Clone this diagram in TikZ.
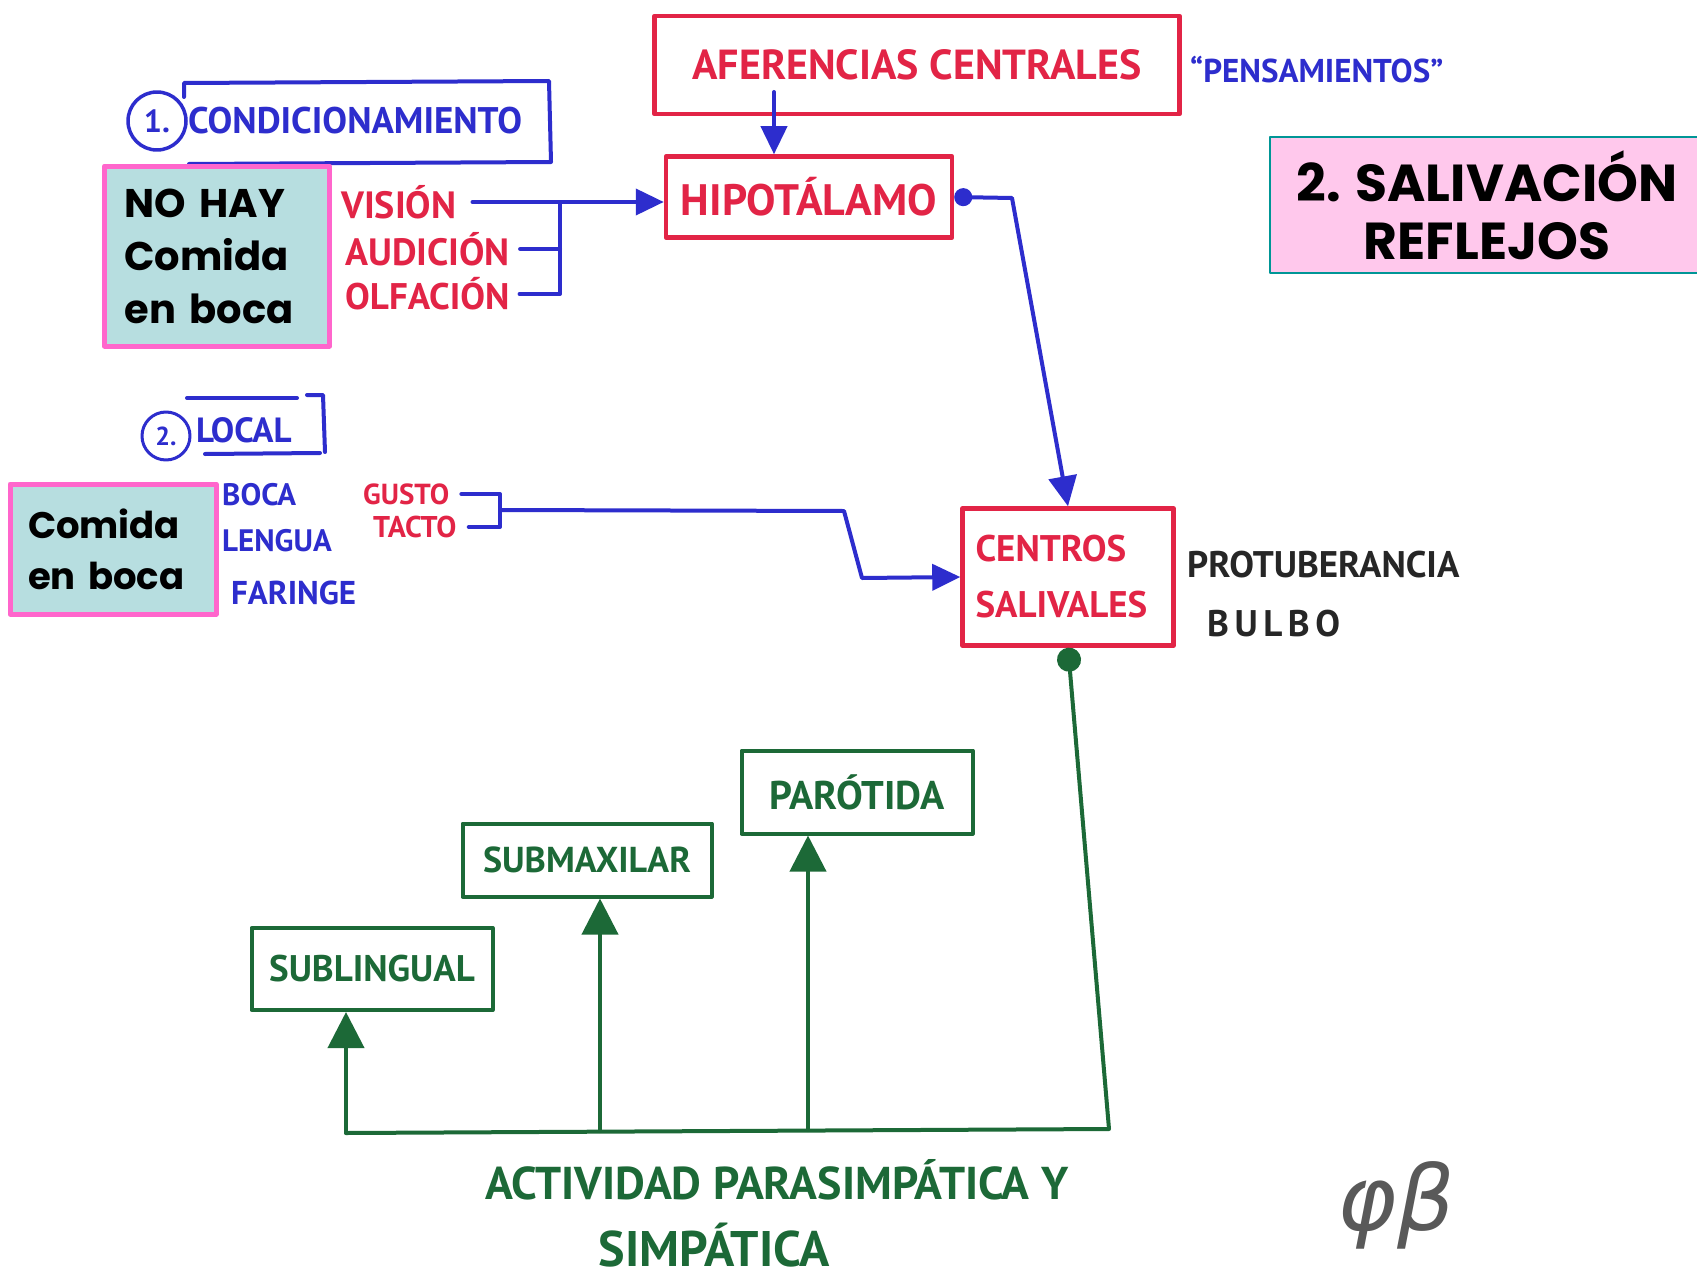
\documentclass[tikz,border=0pt]{standalone}
\usepackage{fontspec}
\setmainfont{PT Sans}
\newfontfamily\cartel{Poppins}
\newfontfamily\firmafont{DejaVu Sans}
\usetikzlibrary{arrows.meta, positioning, calc}
\definecolor{rotulador}{RGB}{226, 36, 70}
\definecolor{tinta}{RGB}{45, 45, 205}
\definecolor{verde}{RGB}{28, 105, 55}
\definecolor{aguamar}{RGB}{183, 222, 224}
\definecolor{fucsia}{RGB}{255, 102, 204}
\definecolor{rosado}{RGB}{255, 200, 236}
\definecolor{turquesa}{RGB}{0, 150, 150}
\newcommand{\tam}[2]{\fontsize{#1}{#2}\selectfont}

\begin{document}
\begin{tikzpicture}[x=1pt, y=-1pt, line cap=round, line join=round,
        caja/.style={rectangle, draw=rotulador, line width=4.5pt, text=rotulador, inner sep=0pt, font=\bfseries\tam{42}{50}},
        glandula/.style={rectangle, draw=verde, line width=4pt, text=verde, inner sep=0pt, font=\bfseries\tam{37}{44}},
        cartelito/.style={rectangle, fill=aguamar, draw=fucsia, line width=5pt, align=left, inner ysep=0pt, font=\cartel\bfseries\tam{40}{53}},
        rojo/.style={text=rotulador, anchor=west, inner sep=0pt, font=\bfseries\tam{38}{44}},
        azul/.style={text=tinta, anchor=west, inner sep=0pt, font=\bfseries\tam{31}{36}},
        negro/.style={text=black!85, anchor=west, inner sep=0pt, font=\bfseries\tam{37}{44}},
        trazo/.style={draw=tinta, line width=4pt},
        flecha/.style={trazo, -{Triangle[length=28pt, width=26pt]}},
        punta/.style={draw=verde, line width=4pt, -{Triangle[length=36pt, width=36pt]}}
    ]
    \clip (0,0) rectangle (1697,1279);
    \fill[white] (0,0) rectangle (1697,1279);

    \node[caja, minimum width=525pt, minimum height=98pt] (afer) at (917,65) {AFERENCIAS CENTRALES};
    \node[azul, font=\bfseries\tam{33}{38}] (pensa) at (1190,70) {“PENSAMIENTOS”};
    \node[caja, minimum width=286pt, minimum height=81pt, font=\bfseries\tam{44}{50}] (hipo) at (809,197) {HIPOTÁLAMO};
    \node[rectangle, fill=rosado, draw=turquesa, line width=2.5pt, minimum width=434pt, minimum height=136pt, align=center, font=\cartel\bfseries\tam{52}{58}] (titulo) at (1487,205) {2. SALIVACIÓN\\REFLEJOS};

    \node[circle, draw=tinta, line width=3.5pt, minimum size=58pt, inner sep=0pt, text=tinta, font=\bfseries\tam{32}{36}] (uno) at (157,121) {1.};
    \node[azul, font=\bfseries\tam{37}{42}] (condic) at (188,121) {CONDICIONAMIENTO};
    \draw[trazo] (184,97) -- (184,83) -- (549,81) -- (551,162) -- (189,164);
    \node[cartelito, text width=185pt, inner xsep=20pt, minimum height=180pt] (nohay) at (217,256) {NO HAY\\Comida\\en boca};

    \node[rojo] (vision) at (341,202) {VISIÓN};
    \node[rojo] (audicion) at (345,249) {AUDICIÓN};
    \node[rojo, font=\bfseries\tam{37}{44}] (olfacion) at (345,294) {OLFACIÓN};
    \coordinate (haz) at (560,202);
    \draw[flecha] ([xshift=16pt]vision.east) -- (vision.east -| hipo.west);
    \draw[trazo] ([xshift=10pt]audicion.east) -- (audicion.east -| haz);
    \draw[trazo] (haz) |- ([xshift=10pt]olfacion.east);
    \coordinate (bajada) at (774,92);
    \draw[flecha] (bajada) -- (bajada |- hipo.north);

    \node[circle, draw=tinta, line width=3pt, minimum size=48pt, inner sep=0pt, text=tinta, font=\bfseries\tam{26}{30}] (dos) at (166,436) {2.};
    \node[azul, font=\bfseries\tam{35}{40}] (local) at (196,430) {LOCAL};
    \draw[trazo] (187,398) -- (297,398);
    \draw[trazo] (307,395) -- (323,395) -- (325,452);
    \draw[trazo] (205,454) -- (320,453);
    \node[cartelito, text width=170pt, inner xsep=18pt, minimum height=130pt, font=\cartel\bfseries\tam{37}{51}] (comida) at (113,549) {Comida\\en boca};

    \node[azul] (boca) at (222,495) {BOCA};
    \node[azul] (lengua) at (222,541) {LENGUA};
    \node[azul, font=\bfseries\tam{33}{38}] (faringe) at (231,593) {FARINGE};
    \node[rojo, font=\bfseries\tam{29}{34}] (gusto) at (363,494) {GUSTO};
    \node[rojo, font=\bfseries\tam{30}{34}] (tacto) at (373,527) {TACTO};
    \coordinate (haz2) at (500,510);
    \draw[trazo] ([xshift=12pt]gusto.east) -- (gusto.east -| haz2) -- (tacto.east -| haz2) -- ([xshift=12pt]tacto.east);

    \node[caja, minimum width=211pt, minimum height=137pt, text width=185pt, align=left, font=\bfseries\tam{37}{56}] (centros) at (1068,577) {CENTROS\\SALIVALES};
    \node[negro] (protu) at (1187,565) {PROTUBERANCIA};
    \node[negro, font=\bfseries\addfontfeature{LetterSpace=15}\tam{37}{44}] (bulbo) at (1207,624) {BULBO};

    \coordinate (codo1) at (844,511);
    \coordinate (codo2) at (862,578);
    \draw[flecha] (haz2) -- (codo1) -- (codo2) -- (centros.west);
    \coordinate (codo3) at (1012,198);
    \draw[trazo, {Circle[length=18pt]}-{Triangle[length=30pt, width=28pt]}] (hipo.east) -- (codo3) -- (centros.north);

    \node[glandula, minimum width=241pt, minimum height=82pt] (sublingual) at (372,969) {SUBLINGUAL};
    \node[glandula, minimum width=249pt, minimum height=73pt, font=\bfseries\tam{36}{42}] (submaxilar) at (587,860) {SUBMAXILAR};
    \node[glandula, minimum width=231pt, minimum height=83pt, font=\bfseries\tam{40}{46}] (parotida) at (857,792) {PARÓTIDA};

    \coordinate (bus1) at (1109,1129);
    \coordinate (bus2) at (346,1133);
    \coordinate (bus3) at (600,1131);
    \coordinate (bus4) at (808,1130);
    \draw[draw=verde, line width=4pt, {Circle[length=24pt]}-] (centros.south) -- (bus1) -- (bus2);
    \draw[punta] (bus2) -- (bus2 |- sublingual.south);
    \draw[punta] (bus3) -- (bus3 |- submaxilar.south);
    \draw[punta] (bus4) -- (bus4 |- parotida.south);

    \node[text=verde, inner sep=0pt, font=\bfseries\tam{46}{52}] (act1) at (777,1180) {ACTIVIDAD PARASIMPÁTICA Y};
    \node[text=verde, inner sep=0pt, font=\bfseries\tam{50}{56}] (act2) at (714,1245) {SIMPÁTICA};
    \node[text=black!65, font=\firmafont\itshape\tam{90}{100}] (firma) at (1396,1205) {φβ};
\end{tikzpicture}
\end{document}
